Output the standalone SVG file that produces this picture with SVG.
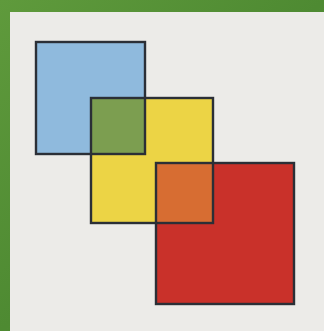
<svg xmlns="http://www.w3.org/2000/svg" width="324" height="331" viewBox="0 0 324 331">
  <defs>
    <linearGradient id="grn" x1="0" y1="0" x2="1" y2="1">
      <stop offset="0" stop-color="#5f9a3c"/>
      <stop offset="0.5" stop-color="#4e8a32"/>
      <stop offset="1" stop-color="#5c963a"/>
    </linearGradient>
  </defs>
  <style>
    .edge { fill: none; stroke: #2b2f36; stroke-width: 2.4; }
  </style>
  <rect x="0" y="0" width="324" height="331" fill="url(#grn)"/>
  <rect x="10" y="12" width="314" height="319" fill="#ecebe8"/>
  <g id="blue"><rect x="36" y="42" width="109" height="112" fill="#8fbadd"/></g>
  <g id="yellow"><rect x="91" y="98" width="122" height="125" fill="#ecd445"/></g>
  <g id="green-overlap"><rect x="91" y="98" width="54" height="56" fill="#7c9e50"/></g>
  <g id="red"><rect x="156" y="163" width="138" height="141" fill="#c9312a"/></g>
  <g id="orange-overlap"><rect x="156" y="163" width="57" height="60" fill="#d76d32"/></g>
  <g id="outlines">
    <rect class="edge" x="36" y="42" width="109" height="112"/>
    <rect class="edge" x="91" y="98" width="122" height="125"/>
    <rect class="edge" x="156" y="163" width="138" height="141"/>
  </g>
</svg>
